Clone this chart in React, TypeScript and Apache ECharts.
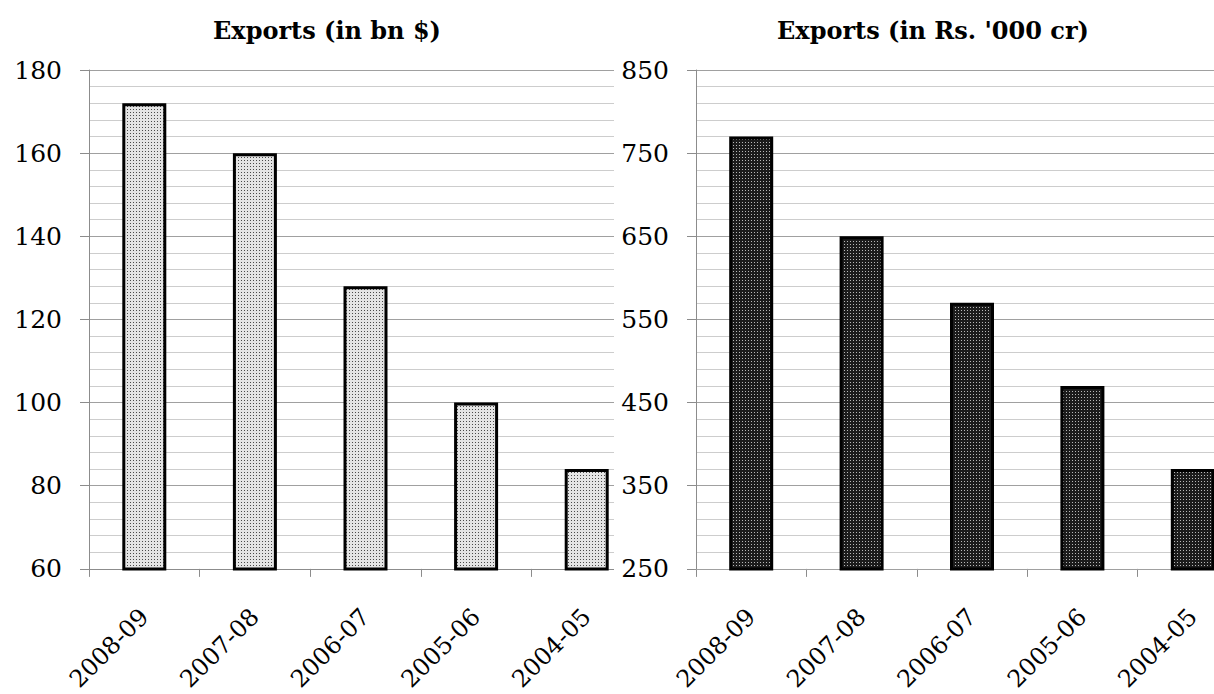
import React, { useEffect, useRef } from "react";
import * as echarts from "echarts";

const categories = ["2008-09", "2007-08", "2006-07", "2005-06", "2004-05"];
const exportsUsd = [172, 160, 128, 100, 84];
const exportsRs = [770, 650, 570, 470, 370];
const usdTicks = [60, 80, 100, 120, 140, 160, 180];
const rsTicks = [250, 350, 450, 550, 650, 750, 850];
const titles = ["Exports (in bn $)", "Exports (in Rs. '000 cr)"];

const SERIF = "'DejaVu Serif', serif";

function makePattern(bg: string, dot: string) {
  const c = document.createElement("canvas");
  c.width = 3;
  c.height = 3;
  const ctx = c.getContext("2d")!;
  ctx.fillStyle = bg;
  ctx.fillRect(0, 0, 3, 3);
  ctx.fillStyle = dot;
  ctx.fillRect(1, 1, 1, 1);
  return { image: c, repeat: "repeat" };
}

function yAxisFor(ticks: number[], gridIndex: number, z: number) {
  return {
    type: "value",
    gridIndex,
    min: ticks[0],
    max: ticks[ticks.length - 1],
    interval: ticks[1] - ticks[0],
    z,
    axisLine: { show: true, lineStyle: { color: "#8c8c8c", width: 1 } },
    axisTick: { show: true, length: 9, lineStyle: { color: "#8c8c8c" } },
    axisLabel: { color: "#000", fontFamily: SERIF, fontSize: 25, margin: 27 },
    splitLine: { show: true, lineStyle: { color: "#a0a0a0", width: 1 } },
    minorTick: { show: false, splitNumber: 5 },
    minorSplitLine: { show: true, lineStyle: { color: "#cdcdcd", width: 1 } },
  };
}

function xAxisFor(gridIndex: number) {
  return {
    type: "category",
    gridIndex,
    data: categories,
    axisLine: { show: true, lineStyle: { color: "#8c8c8c", width: 1 } },
    axisTick: { show: true, length: 8, lineStyle: { color: "#8c8c8c" } },
    axisLabel: {
      color: "#000",
      fontFamily: SERIF,
      fontSize: 24,
      rotate: 45,
      margin: 44,
      interval: 0,
    },
    splitLine: { show: false },
  };
}

export default function App() {
  const ref = useRef<HTMLDivElement>(null);
  useEffect(() => {
    if (!ref.current) return;
    const chart = echarts.init(ref.current, undefined, { renderer: "svg" });
    chart.setOption({
      animation: false,
      backgroundColor: "#fff",
      grid: [
        { left: 89, top: 70, width: 553, height: 500 },
        { left: 696, top: 70, width: 552, height: 500 },
      ],
      xAxis: [xAxisFor(0), xAxisFor(1)],
      yAxis: [yAxisFor(usdTicks, 0, 0), yAxisFor(rsTicks, 1, 200)],
      series: [
        {
          type: "bar",
          xAxisIndex: 0,
          yAxisIndex: 0,
          data: exportsUsd,
          barWidth: 44,
          itemStyle: {
            color: makePattern("#e4e4e4", "#4a4a4a"),
            borderColor: "#000",
            borderWidth: 3,
          },
        },
        {
          type: "bar",
          xAxisIndex: 1,
          yAxisIndex: 1,
          z: 300,
          data: exportsRs,
          barWidth: 44,
          itemStyle: {
            color: makePattern("#1c1c1c", "#b8b8b8"),
            borderColor: "#000",
            borderWidth: 3,
          },
        },
      ],
      graphic: [
        {
          type: "rect",
          z: 100,
          shape: { x: 614, y: 50, width: 82, height: 540 },
          style: { fill: "#fff" },
        },
        {
          type: "text",
          x: 327,
          y: 30,
          z: 100,
          style: {
            text: titles[0],
            align: "center",
            verticalAlign: "middle",
            font: "bold 24px 'DejaVu Serif', serif",
            fill: "#000",
          },
        },
        {
          type: "text",
          x: 933,
          y: 30,
          z: 100,
          style: {
            text: titles[1],
            align: "center",
            verticalAlign: "middle",
            font: "bold 24px 'DejaVu Serif', serif",
            fill: "#000",
          },
        },
      ],
    });
    return () => chart.dispose();
  }, []);
  return (
    <div
      style={{
        position: "fixed",
        left: 0,
        top: 0,
        width: 1214,
        height: 694,
        overflow: "hidden",
        background: "#fff",
      }}
    >
      <div ref={ref} style={{ width: 1260, height: 694 }} />
    </div>
  );
}
